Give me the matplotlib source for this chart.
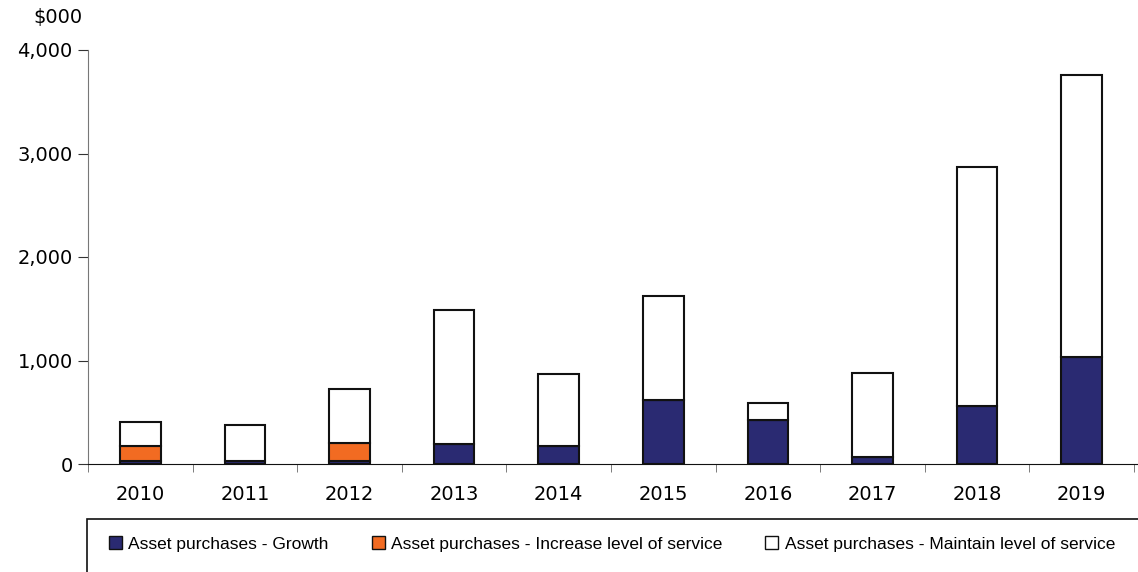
import numpy as np
import matplotlib.pyplot as plt
from matplotlib.patches import Rectangle, Patch

# Datos ($000)
years = ['2010', '2011', '2012', '2013', '2014', '2015', '2016', '2017', '2018', '2019']
growth = [30, 30, 30, 193, 174, 618, 425, 65, 557, 1034]
increase = [145, 0, 170, 0, 0, 0, 0, 0, 0, 0]
maintain = [231, 347, 522, 1295, 696, 1005, 167, 815, 2313, 2724]
labels = ['Asset purchases - Growth',
          'Asset purchases - Increase level of service',
          'Asset purchases - Maintain level of service']
colors = ['#2a2a72', '#f26b22', '#ffffff']

fig = plt.figure(figsize=(11.38, 5.72), dpi=100, facecolor='white')
ax = fig.add_axes([88/1138, 1 - 464/572, 1046/1138, 414/572])

x = np.arange(len(years))
bottom = np.zeros(len(years))
for vals, c in zip([growth, increase, maintain], colors):
    vals = np.array(vals)
    ax.bar(x, vals, width=0.39, bottom=bottom, color=c, edgecolor='#111111',
           linewidth=1.5, zorder=3)
    bottom += vals

ax.set_xlim(-0.5, 9.5)
ax.set_ylim(0, 4000)
ax.set_yticks([0, 1000, 2000, 3000, 4000])
ax.set_yticklabels(['0', '1,000', '2,000', '3,000', '4,000'], fontsize=14)
ax.set_xticks(x)
ax.set_xticklabels(years, fontsize=14)
ax.set_xticks(np.arange(-0.5, 10, 1), minor=True)
ax.tick_params(axis='x', which='major', length=0, pad=15)
ax.tick_params(axis='x', which='minor', length=6, color='#666666')
ax.tick_params(axis='y', length=7, color='#333333', pad=4)
for s in ['top', 'right']:
    ax.spines[s].set_visible(False)
ax.spines['left'].set_color('#777777')
ax.spines['bottom'].set_color('#111111')
ax.spines['bottom'].set_bounds(-0.5, 10)

fig.text(33/1138, 1 - 18/572, '$000', fontsize=14, va='center', ha='left')

# Caja de la leyenda
fig.patches.append(Rectangle((87/1138, -0.05), 1.0, (572 - 519)/572 + 0.05,
                             transform=fig.transFigure, fill=False,
                             edgecolor='#111111', linewidth=1.2))
handles = [Patch(facecolor=c, edgecolor='#111111', linewidth=1) for c in colors]
leg = fig.legend(handles, labels, ncol=3, loc='center left',
                 bbox_to_anchor=(100/1138, 1 - 544/572), frameon=False,
                 prop={'family': ['Liberation Sans', 'DejaVu Sans'], 'size': 12.5},
                 handlelength=0.75, handleheight=0.75, handletextpad=0.35,
                 columnspacing=2.5, borderpad=0)

fig.savefig('out.png', dpi=100)
